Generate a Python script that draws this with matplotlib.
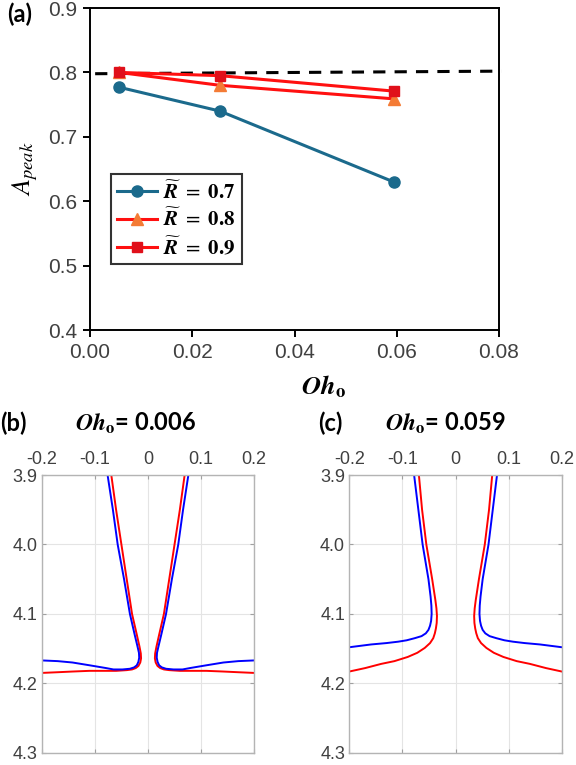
import numpy as np
import matplotlib
matplotlib.use('Agg')
import matplotlib.pyplot as plt

plt.rcParams['mathtext.fontset'] = 'stix'

# ---- panel (a) data ----
oh = [0.0057, 0.0254, 0.0594]
a_r07 = [0.777, 0.740, 0.630]
a_r08 = [0.800, 0.780, 0.759]
a_r09 = [0.800, 0.795, 0.771]
ref_x = [0.001, 0.0805]
ref_y = [0.798, 0.802]
labels = [r'$\widetilde{\boldsymbol{R}}\ =\ \mathbf{0.7}$',
          r'$\widetilde{\boldsymbol{R}}\ =\ \mathbf{0.8}$',
          r'$\widetilde{\boldsymbol{R}}\ =\ \mathbf{0.9}$']

# ---- panel (b) interface, right half (x, z) ----
b_red_x = [0.069, 0.060, 0.050, 0.040, 0.030, 0.021, 0.016, 0.0135, 0.013, 0.0145, 0.018, 0.023, 0.030, 0.040, 0.060, 0.079, 0.110, 0.142, 0.170, 0.200]
b_red_z = [3.900, 3.950, 4.000, 4.050, 4.100, 4.130, 4.147, 4.157, 4.164, 4.170, 4.175, 4.178, 4.180, 4.181, 4.182, 4.182, 4.182, 4.183, 4.184, 4.185]
b_blue_x = [0.076, 0.066, 0.057, 0.045, 0.034, 0.025, 0.020, 0.017, 0.0165, 0.018, 0.021, 0.026, 0.034, 0.048, 0.065, 0.079, 0.110, 0.142, 0.170, 0.200]
b_blue_z = [3.900, 3.950, 4.000, 4.050, 4.100, 4.130, 4.146, 4.156, 4.163, 4.169, 4.174, 4.177, 4.179, 4.180, 4.180, 4.178, 4.174, 4.170, 4.168, 4.167]

# ---- panel (c) interface, right half ----
c_red_x = [0.069, 0.063, 0.055, 0.044, 0.038, 0.036, 0.035, 0.0355, 0.037, 0.039, 0.042, 0.048, 0.058, 0.072, 0.090, 0.115, 0.140, 0.170, 0.200]
c_red_z = [3.900, 3.950, 4.000, 4.050, 4.080, 4.092, 4.103, 4.113, 4.121, 4.128, 4.135, 4.142, 4.149, 4.156, 4.162, 4.168, 4.172, 4.178, 4.183]
c_blue_x = [0.078, 0.070, 0.062, 0.051, 0.047, 0.0455, 0.045, 0.046, 0.048, 0.051, 0.056, 0.064, 0.077, 0.092, 0.108, 0.130, 0.159, 0.200]
c_blue_z = [3.900, 3.950, 4.000, 4.050, 4.075, 4.088, 4.100, 4.110, 4.117, 4.123, 4.128, 4.132, 4.135, 4.138, 4.140, 4.142, 4.144, 4.148]

fig = plt.figure(figsize=(5.76, 7.65), dpi=100)
tick_font = 'Liberation Sans'

# panel (a)
ax = fig.add_axes([0.1563, 0.5686, 0.710, 0.4209])
ax.plot(ref_x, ref_y, '--', color='black', lw=2.2, dashes=(4, 3), clip_on=False, zorder=1)
ax.plot(oh, a_r07, '-o', color='#1b6a8c', lw=2.2, ms=8, label=labels[0], zorder=3)
ax.plot(oh, a_r08, '-^', color='#ff1010', mfc='#f47b35', mec='#f47b35', lw=2.2, ms=8, label=labels[1], zorder=3)
ax.plot(oh, a_r09, '-s', color='#ff1010', mfc='#e0101a', mec='#e0101a', lw=2.2, ms=7, label=labels[2], zorder=3)
ax.set_xlim(0, 0.08)
ax.set_ylim(0.4, 0.9)
ax.set_xticks(np.arange(0, 0.081, 0.02))
ax.set_xticklabels(['0.00', '0.02', '0.04', '0.06', '0.08'], family=tick_font)
ax.set_yticks(np.arange(0.4, 0.91, 0.1))
ax.set_yticklabels(['0.4', '0.5', '0.6', '0.7', '0.8', '0.9'], family=tick_font)
for s in ax.spines.values():
    s.set_linewidth(1.4)
ax.tick_params(direction='out', length=5, width=1.4, labelsize=15,
               labelcolor='#404040', pad=4)
ax.set_ylabel(r'$A_{peak}$', fontsize=19, labelpad=6)
ax.set_xlabel(r'$\boldsymbol{Oh}_{\mathbf{o}}$', fontsize=19, labelpad=6)
ax.xaxis.set_label_coords(0.57, -0.135)
leg = ax.legend(loc='upper left', bbox_to_anchor=(0.051, 0.4845), borderaxespad=0,
                fontsize=15, frameon=True, fancybox=False, handlelength=1.9,
                handletextpad=0.3, borderpad=0.3, labelspacing=0.25)
leg.get_frame().set_edgecolor('black')
leg.get_frame().set_linewidth(1.5)
fig.text(0.012, 0.981, '(a)', fontsize=17, fontweight='bold', family='Lato', va='center')


def shape_panel(left, rx, rz, bx, bz):
    a = fig.add_axes([left, 0.016, 0.369, 0.363])
    a.plot(rx, rz, color='#ff0000', lw=1.4)
    a.plot([-v for v in rx], rz, color='#ff0000', lw=1.4)
    a.plot(bx, bz, color='#0000ff', lw=1.4)
    a.plot([-v for v in bx], bz, color='#0000ff', lw=1.4)
    a.set_xlim(-0.2, 0.2)
    a.set_ylim(4.3, 3.9)
    a.set_xticks([-0.2, -0.1, 0, 0.1, 0.2])
    a.set_xticklabels(['-0.2', '-0.1', '0', '0.1', '0.2'], family=tick_font)
    a.set_yticks([3.9, 4.0, 4.1, 4.2, 4.3])
    a.set_yticklabels(['3.9', '4.0', '4.1', '4.2', '4.3'], family=tick_font)
    a.xaxis.tick_top()
    a.tick_params(direction='in', length=3, width=0.8, color='#a0a0a0',
                  labelsize=13, labelcolor='#404040',
                  top=True, bottom=True, left=True, right=True)
    a.tick_params(axis='x', pad=5)
    a.tick_params(axis='y', pad=3)
    a.grid(True, color='#e4e4e4', lw=0.8)
    for s in a.spines.values():
        s.set_color('#b4b4b4')
        s.set_linewidth(1.0)
    return a


shape_panel(0.0724, b_red_x, b_red_z, b_blue_x, b_blue_z)
shape_panel(0.6064, c_red_x, c_red_z, c_blue_x, c_blue_z)

fig.text(0.0, 0.447, '(b)', fontsize=17, fontweight='bold', family='Lato', va='center')
fig.text(0.130, 0.447, r'$\boldsymbol{Oh}_{\mathbf{o}}$= 0.006', fontsize=17,
         fontweight='bold', family='Lato', va='center')
fig.text(0.552, 0.447, '(c)', fontsize=17, fontweight='bold', family='Lato', va='center')
fig.text(0.668, 0.447, r'$\boldsymbol{Oh}_{\mathbf{o}}$= 0.059', fontsize=17,
         fontweight='bold', family='Lato', va='center')

fig.savefig('out.png', dpi=100)
